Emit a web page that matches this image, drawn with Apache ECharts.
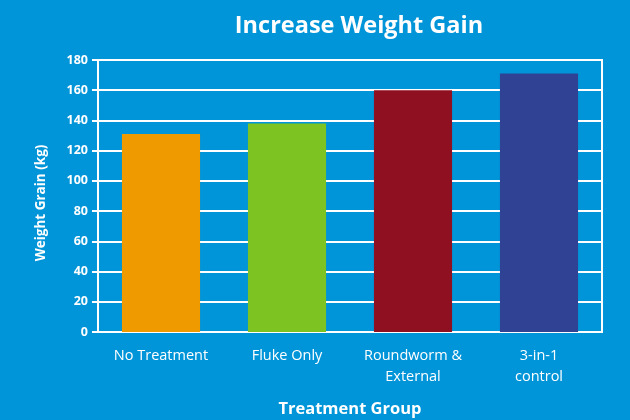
<!DOCTYPE html>
<html>
<head>
<meta charset="utf-8">
<script src="https://cdn.jsdelivr.net/npm/echarts@6/dist/echarts.min.js"></script>
<style>
html,body{margin:0;padding:0;background:#0094d8;}
#container{width:630px;height:420px;}
</style>
</head>
<body>
<div id="container"></div>
<script>
var categories = ['No Treatment', 'Fluke Only', 'Roundworm &\nExternal', '3-in-1\ncontrol'];
var weightGain = [131, 138, 160, 171];
var barColors = ['#ef9b00', '#7dc422', '#8f1020', '#304294'];

var chart = echarts.init(document.getElementById('container'));
var option = {
	backgroundColor: '#0094d8',
	textStyle: {fontFamily: 'Open Sans'},
	title: {
		text: 'Increase Weight Gain',
		left: 354, top: 9, textAlign: 'center',
		textStyle: {color: '#fff', fontSize: 23.5, fontWeight: 'bold'}
	},
	// white box round the plot
	grid: {left: 98, right: 28, top: 60, bottom: 88, show: true, borderColor: '#fff', borderWidth: 2,
		outerBoundsMode: 'none'},
	xAxis: {
		type: 'category',
		data: categories,
		name: 'Treatment Group',
		nameLocation: 'middle',
		nameGap: 69,
		nameTextStyle: {color: '#fff', fontSize: 16.5, fontWeight: 'bold'},
		axisLine: {lineStyle: {color: '#fff', width: 2}},
		axisTick: {show: false},
		axisLabel: {color: '#fff', fontSize: 14.5, margin: 13, lineHeight: 21, interval: 0}
	},
	yAxis: {
		type: 'value',
		min: 0, max: 180, interval: 20,
		name: 'Weight Grain (kg)',
		nameLocation: 'middle',
		nameGap: 50,
		nameTextStyle: {color: '#fff', fontSize: 13.5, fontWeight: 'bold', padding: [0, 14, 0, 0]},
		axisLine: {show: true, lineStyle: {color: '#fff', width: 2}},
		axisTick: {show: true, length: 6, lineStyle: {color: '#fff', width: 2}},
		axisLabel: {color: '#fff', fontSize: 12.5, fontWeight: 'bold', margin: 10},
		splitLine: {lineStyle: {color: '#fff', width: 2}}
	},
	series: [{
		type: 'bar',
		barWidth: '62%',
		data: weightGain.map(function(v, i){
			return {value: v, itemStyle: {color: barColors[i]}};
		}),
		z: 3
	}]
};
chart.setOption(option);
</script>
</body>
</html>
